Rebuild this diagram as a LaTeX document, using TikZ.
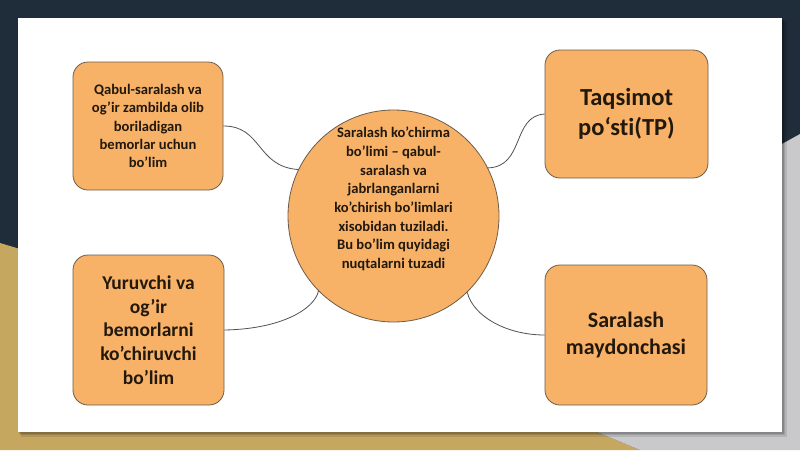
\documentclass[tikz,border=0pt]{standalone}
\usepackage{fontspec}
\setmainfont{Carlito}[Ligatures=NoCommon]
\usetikzlibrary{shapes.geometric}
\definecolor{navy}{HTML}{1F2D3A}
\definecolor{goldbg}{HTML}{C6A760}
\definecolor{graybg}{HTML}{C9C9CC}
\definecolor{boxfill}{HTML}{F7B268}
\definecolor{boxline}{HTML}{6E5C48}
\definecolor{txt}{HTML}{22180C}
\definecolor{conn}{HTML}{505055}
\tikzset{
  box/.style={draw=boxline, line width=0.8pt, fill=boxfill, rounded corners=15pt,
    text=txt, align=center, font=\bfseries, inner sep=0pt},
  hub/.style={draw=boxline, line width=0.8pt, fill=boxfill, ellipse, inner sep=0pt,
    minimum width=211pt, minimum height=212pt},
  hubtext/.style={text=txt, align=center, inner sep=0pt},
  link/.style={draw=conn, line width=0.8pt},
}
\begin{document}
\begin{tikzpicture}[x=1pt,y=-1pt]
\useasboundingbox (0,0) rectangle (800,450);
% background
\fill[navy] (0,0) rectangle (800,450);
\fill[goldbg] (0,243) -- (30,252) -- (560,416.5) -- (640,450) -- (0,450) -- cycle;
\fill[graybg] (800,134) -- (782,144) -- (560,416.5) -- (640,450) -- (800,450) -- cycle;
% card shadow
\fill[black, opacity=0.10] (21,21) rectangle (787,437);
\fill[black, opacity=0.12] (20,20) rectangle (785,435);
\fill[black, opacity=0.15] (19,19) rectangle (783.5,433.5);
\fill[white] (18,18) rectangle (782,432);
% nodes
\node[hub] (c) at (393.5,216) {};
\node[hubtext, font=\bfseries\fontsize{14.6}{18.7}\selectfont] (ct) at (393.5,199)
  {Saralash ko’chirma\\ bo’limi – qabul-\\ saralash va\\ jabrlanganlarni\\ ko’chirish bo’limlari\\ xisobidan tuziladi.\\ Bu bo’lim quyidagi\\ nuqtalarni tuzadi};
\node[box, minimum width=150pt, minimum height=128pt, font=\bfseries\fontsize{14.6}{18.3}\selectfont] (tl) at (148,126)
  {Qabul-saralash va\\ og’ir zambilda olib\\ boriladigan\\ bemorlar uchun\\ bo’lim};
\node[box, minimum width=151pt, minimum height=150pt, font=\bfseries\fontsize{19.5}{23.7}\selectfont] (bl) at (148.5,330)
  {Yuruvchi va\\ og’ir\\ bemorlarni\\ ko’chiruvchi\\ bo’lim};
\node[box, minimum width=163pt, minimum height=128pt, font=\bfseries\fontsize{24.5}{30}\selectfont] (tr) at (626.5,114)
  {Taqsimot\\ po‘sti(TP)};
\node[box, minimum width=162pt, minimum height=140pt, font=\bfseries\fontsize{22}{26.7}\selectfont] (br) at (626,335)
  {Saralash\\ maydonchasi};
% connectors
\draw[link] (tl.east) .. controls +(39,0) and +(-42,-3) .. (c.154);
\draw[link] (tr.west) .. controls +(-33,2) and +(37,-1) .. (c.27);
\draw[link] (bl.east) .. controls +(57,-1) and +(-4,18) .. (c.225);
\draw[link] (c.314) .. controls +(6,24) and +(-38,0) .. (br.west);
\end{tikzpicture}
\end{document}
